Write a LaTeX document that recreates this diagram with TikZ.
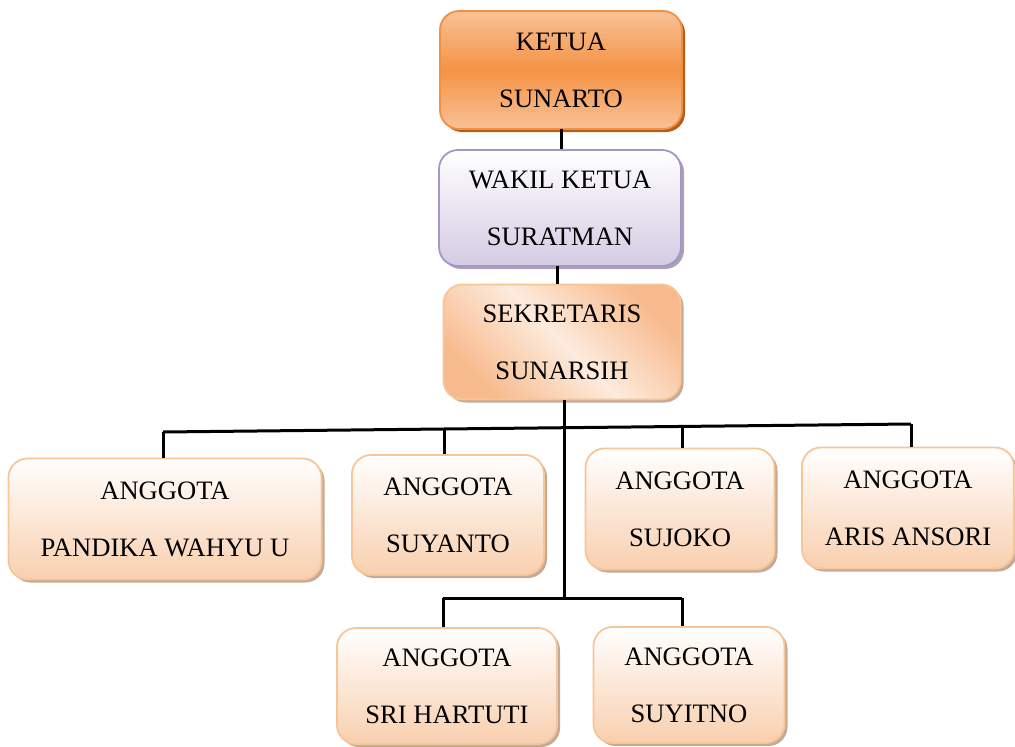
\documentclass[tikz,border=0pt]{standalone}
\usepackage{fontspec}
\setmainfont{Liberation Serif}
\usetikzlibrary{shadows}
\definecolor{ketuaMid}{HTML}{F49346}
\definecolor{ketuaEnd}{HTML}{F9C196}
\definecolor{ketuaLine}{HTML}{F19042}
\definecolor{ketuaShadow}{HTML}{B45E1C}
\definecolor{wakilBot}{HTML}{D4CBE3}
\definecolor{wakilLine}{HTML}{A596C6}
\definecolor{wakilShadow}{HTML}{A8A2B2}
\definecolor{sekrOrange}{HTML}{F7BA8C}
\definecolor{sekrLight}{HTML}{FDEBDD}
\definecolor{peachBot}{HTML}{F9CFAE}
\definecolor{peachLine}{HTML}{F8C597}
\definecolor{peachShadow}{HTML}{C4AA98}
\tikzset{
  box/.style={rounded corners=19pt, line width=1.8pt, align=center, inner sep=0pt,
    font=\fontsize{26.6}{57}\selectfont},
  ketuabox/.style={box, draw=ketuaLine, top color=ketuaEnd, bottom color=ketuaEnd, middle color=ketuaMid,
    drop shadow={shadow xshift=3pt, shadow yshift=-3pt, fill=ketuaShadow, opacity=1}},
  wakilbox/.style={box, draw=wakilLine, top color=white, bottom color=wakilBot,
    drop shadow={shadow xshift=3pt, shadow yshift=-3pt, fill=wakilShadow, opacity=1}},
  sekrbox/.style={box, draw=peachLine, top color=sekrOrange, bottom color=sekrOrange, middle color=sekrLight, shading angle=-45,
    drop shadow={shadow xshift=3pt, shadow yshift=-3pt, fill=peachShadow, opacity=1}},
  memberbox/.style={box, draw=peachLine, top color=white, bottom color=peachBot,
    drop shadow={shadow xshift=3pt, shadow yshift=-3pt, fill=peachShadow, opacity=1}},
  conn/.style={line width=3pt, black}
}
\begin{document}
\begin{tikzpicture}[x=1pt, y=-1pt]
\useasboundingbox (0,0) rectangle (1015,747);
\fill[white] (0,0) rectangle (1015,747);

\node[ketuabox, minimum width=242pt, minimum height=118pt] (ketua) at (561,70) {KETUA\\SUNARTO};
\node[wakilbox, minimum width=242pt, minimum height=116pt] (wakil) at (560,208) {WAKIL KETUA\\SURATMAN};
\node[sekrbox, minimum width=237pt, minimum height=115pt] (sekr) at (562,342) {SEKRETARIS\\SUNARSIH};

\node[memberbox, minimum width=313pt, minimum height=121pt] (a1) at (165,519) {ANGGOTA\\PANDIKA WAHYU U};
\node[memberbox, minimum width=192pt, minimum height=120pt] (a2) at (448,515) {ANGGOTA\\SUYANTO};
\node[memberbox, minimum width=189pt, minimum height=121pt] (a3) at (680,509) {ANGGOTA\\SUJOKO};
\node[memberbox, minimum width=212pt, minimum height=121pt] (a4) at (908,508) {ANGGOTA\\ARIS ANSORI};
\node[memberbox, minimum width=220pt, minimum height=116pt] (b1) at (447,686) {ANGGOTA\\SRI HARTUTI};
\node[memberbox, minimum width=191pt, minimum height=116pt] (b2) at (689,685) {ANGGOTA\\SUYITNO};

% connectors
\coordinate (k1) at (561,129);
\coordinate (w1) at (557,266);
\coordinate (s1) at (564,400);
\coordinate (u1) at (163,432);
\coordinate (u2) at (444,429);
\coordinate (u3) at (682,426);
\coordinate (u4) at (911,424);
\coordinate (l0) at (564,598);
\coordinate (l1) at (443,598);
\coordinate (l2) at (682,598);

\draw[conn] (k1) -- (k1 |- wakil.north);
\draw[conn] (w1) -- (w1 |- sekr.north);
\draw[conn] (s1) -- (l0);
\draw[conn] (u1) -- (u4);
\draw[conn] (u1) -- (u1 |- a1.north);
\draw[conn] (u2) -- (u2 |- a2.north);
\draw[conn] (u3) -- (u3 |- a3.north);
\draw[conn] (u4) -- (u4 |- a4.north);
\draw[conn] (l1) -- (l2);
\draw[conn] (l1) -- (l1 |- b1.north);
\draw[conn] (l2) -- (l2 |- b2.north);
\end{tikzpicture}
\end{document}
